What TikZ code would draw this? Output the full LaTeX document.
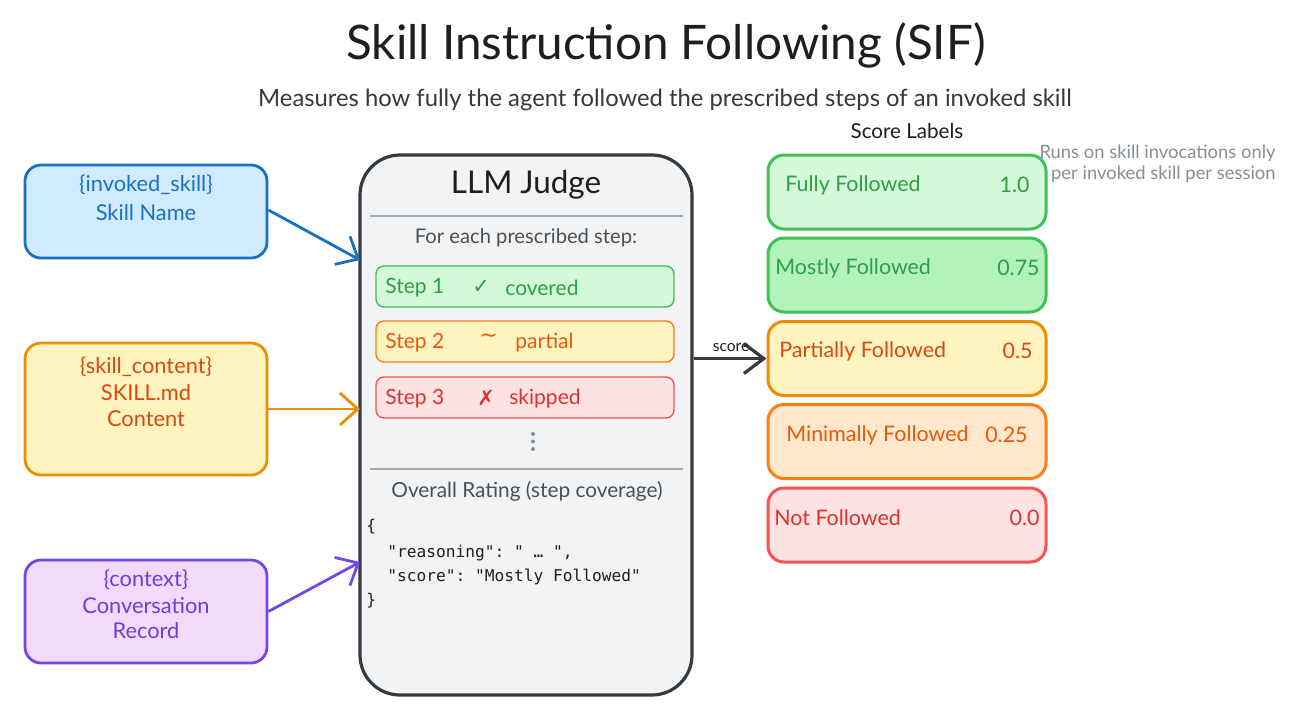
\documentclass[tikz,border=0pt]{standalone}
\usepackage{fontspec}
\setmainfont{Lato}
\setmonofont{DejaVu Sans Mono}
\newfontfamily\symfont{DejaVu Sans}
\usetikzlibrary{arrows.meta,calc}
\definecolor{ink}{HTML}{1E1E1E}
\definecolor{subgray}{HTML}{343A40}
\definecolor{midgray}{HTML}{495057}
\definecolor{notegray}{HTML}{868E96}
\definecolor{blueFill}{HTML}{D0EBFF}
\definecolor{blueLine}{HTML}{1971C2}
\definecolor{yelFill}{HTML}{FFF3BF}
\definecolor{yelLine}{HTML}{F08C00}
\definecolor{yelText}{HTML}{D9480F}
\definecolor{purFill}{HTML}{F3D9FA}
\definecolor{purLine}{HTML}{7048E8}
\definecolor{purText}{HTML}{6741D9}
\definecolor{judgeFill}{HTML}{F1F3F5}
\definecolor{judgeLine}{HTML}{343A40}
\definecolor{grnFill}{HTML}{D3F9D8}
\definecolor{grnFill2}{HTML}{B2F2BB}
\definecolor{grnLine}{HTML}{40C057}
\definecolor{grnText}{HTML}{2F9E44}
\definecolor{orgFill}{HTML}{FFE8CC}
\definecolor{orgLine}{HTML}{FD7E14}
\definecolor{orgText}{HTML}{E8590C}
\definecolor{redFill}{HTML}{FFE3E3}
\definecolor{redLine}{HTML}{FA5252}
\definecolor{redText}{HTML}{E03131}
\definecolor{sepgray}{HTML}{A5AAB0}
\tikzset{
  inbox/.style={draw, rounded corners=8pt, line width=1.4pt, minimum width=121pt, inner sep=0pt},
  stepbox/.style={draw, rounded corners=4pt, line width=0.7pt, minimum width=149pt, minimum height=20.5pt, inner sep=0pt},
  scorebox/.style={draw, rounded corners=8pt, line width=1.5pt, minimum width=139pt, minimum height=37pt, inner sep=0pt},
  txt/.style={inner sep=0pt, font=\fontsize{10.9}{12}\selectfont},
  steptxt/.style={inner sep=0pt, anchor=west, font=\fontsize{10.5}{12}\selectfont},
  scoretxt/.style={inner sep=0pt, font=\fontsize{10.7}{12}\selectfont},
  json/.style={inner sep=0pt, anchor=west, font=\ttfamily\fontsize{8.1}{10}\selectfont, text=ink},
  inarrow/.style={line width=1.4pt, -{Straight Barb[length=9pt,width=16pt,line width=1.4pt]}},
}
\begin{document}
\begin{tikzpicture}[x=0.5pt,y=-0.5pt]
\useasboundingbox[fill=white] (0,0) rectangle (1296,709);

% title
\node[txt, font=\fontsize{23.8}{26}\selectfont, text=ink] (title) at (666,45) {Skill Instruction Following (SIF)};
\node[txt, font=\fontsize{11.9}{14}\selectfont, text=subgray] (subtitle) at (665,100) {Measures how fully the agent followed the prescribed steps of an invoked skill};

% input boxes
\node[inbox, fill=blueFill, draw=blueLine, minimum height=46.5pt] (blue) at (146,211.5) {};
\node[txt, text=blueLine] (bluet1) at (146,185) {\{invoked\_skill\}};
\node[txt, text=blueLine] (bluet2) at (146,213) {Skill Name};

\node[inbox, fill=yelFill, draw=yelLine, minimum height=66pt] (yel) at (146,409) {};
\node[txt, text=yelText] (yelt1) at (146,367) {\{skill\_content\}};
\node[txt, text=yelText] (yelt2) at (146,393) {SKILL.md};
\node[txt, text=yelText] (yelt3) at (146,419) {Content};

\node[inbox, fill=purFill, draw=purLine, minimum height=51.5pt] (pur) at (146,611.5) {};
\node[txt, text=purText] (purt1) at (146,580) {\{context\}};
\node[txt, text=purText] (purt2) at (146,606) {Conversation};
\node[txt, text=purText] (purt3) at (146,631) {Record};

% judge
\node[draw=judgeLine, fill=judgeFill, line width=1.6pt, rounded corners=20pt, minimum width=166pt, minimum height=270pt, inner sep=0pt] (judge) at (526,425) {};
\node[txt, font=\fontsize{15.7}{18}\selectfont, text=ink] (jtitle) at (526,185) {LLM Judge};
\coordinate (sep1a) at (370,216);
\coordinate (sep1b) at (683,216);
\draw[sepgray, line width=0.7pt] (sep1a) -- (sep1b);
\node[txt, font=\fontsize{10.1}{12}\selectfont, text=midgray] (foreach) at (526,238) {For each prescribed step:};

\node[stepbox, fill=grnFill, draw=grnLine] (step1) at (525,286.5) {};
\node[steptxt, text=grnText] (s1a) at (385,288) {Step 1};
\node[steptxt, text=grnText, font=\symfont\fontsize{10.5}{12}\selectfont] (s1b) at (472,287) {✓};
\node[steptxt, text=grnText] (s1c) at (505,288) {covered};

\node[stepbox, fill=yelFill, draw=orgLine] (step2) at (525,341.5) {};
\node[steptxt, text=orgText] (s2a) at (385,343) {Step 2};
\node[steptxt, text=orgText, font=\symfont\fontsize{11}{12}\selectfont] (s2b) at (479,338) {\~{}};
\node[steptxt, text=orgText] (s2c) at (515,343) {partial};

\node[stepbox, fill=redFill, draw=redLine] (step3) at (525,397.5) {};
\node[steptxt, text=redText] (s3a) at (385,399) {Step 3};
\node[steptxt, text=redText, font=\symfont\fontsize{10.5}{12}\selectfont] (s3b) at (477,398) {✗};
\node[steptxt, text=redText] (s3c) at (509,399) {skipped};

\fill[notegray] (533,434) circle (1pt) (533,441.5) circle (1pt) (533,449) circle (1pt);
\coordinate (sep2a) at (370,469);
\coordinate (sep2b) at (683,469);
\draw[sepgray, line width=0.7pt] (sep2a) -- (sep2b);
\node[txt, font=\fontsize{10.4}{12}\selectfont, text=midgray] (overall) at (527,491) {Overall Rating (step coverage)};

\node[json] (j1) at (366,527) {\{};
\node[json] (j2) at (387,553) {"reasoning": " … ",};
\node[json] (j3) at (387,577) {"score": "Mostly Followed"};
\node[json] (j4) at (366,601) {\}};

% input arrows
\coordinate (jin1) at (360,260);
\coordinate (jin2) at (360,409);
\coordinate (jin3) at (360,562);
\draw[inarrow, blueLine] (blue.east |- 0,210) -- (jin1);
\draw[inarrow, yelLine] (yel.east) -- (jin2);
\draw[inarrow, purLine] (pur.east) -- (jin3);

% score labels
\node[txt, font=\fontsize{10.3}{12}\selectfont, text=ink] (sltitle) at (907,131) {Score Labels};

\node[scorebox, fill=grnFill, draw=grnLine] (sc1) at (907,192) {};
\node[scoretxt, anchor=west, text=grnText] (sc1a) at (785,185) {Fully Followed};
\node[scoretxt, anchor=east, text=grnText] (sc1b) at (1030,185) {1.0};

\node[scorebox, fill=grnFill2, draw=grnLine] (sc2) at (907,275) {};
\node[scoretxt, anchor=west, text=grnText] (sc2a) at (775,268) {Mostly Followed};
\node[scoretxt, anchor=east, text=grnText] (sc2b) at (1040,268) {0.75};

\node[scorebox, fill=yelFill, draw=yelLine] (sc3) at (907,358.5) {};
\node[scoretxt, anchor=west, text=yelText] (sc3a) at (779,351) {Partially Followed};
\node[scoretxt, anchor=east, text=yelText] (sc3b) at (1033,351) {0.5};

\node[scorebox, fill=orgFill, draw=orgLine] (sc4) at (907,441.5) {};
\node[scoretxt, anchor=west, text=orgText] (sc4a) at (786,435) {Minimally Followed};
\node[scoretxt, anchor=east, text=orgText] (sc4b) at (1028,435) {0.25};

\node[scorebox, fill=redFill, draw=redLine] (sc5) at (907,525) {};
\node[scoretxt, anchor=west, text=redText] (sc5a) at (774,518) {Not Followed};
\node[scoretxt, anchor=east, text=redText] (sc5b) at (1040,518) {0.0};

% note
\node[inner sep=0pt, align=right, font=\fontsize{9.2}{10.5}\selectfont, text=notegray, anchor=east] (note) at (1276,164) {Runs on skill invocations only\\per invoked skill per session};

% score arrow
\node[inner sep=0pt, font=\fontsize{7.8}{9}\selectfont, text=ink] (scorelbl) at (731,348) {score};
\draw[line width=1.6pt, judgeLine, -{Straight Barb[length=10pt,width=15pt,line width=1.6pt]}] (judge.east |- sc3.west) -- (sc3.west);
\end{tikzpicture}
\end{document}
